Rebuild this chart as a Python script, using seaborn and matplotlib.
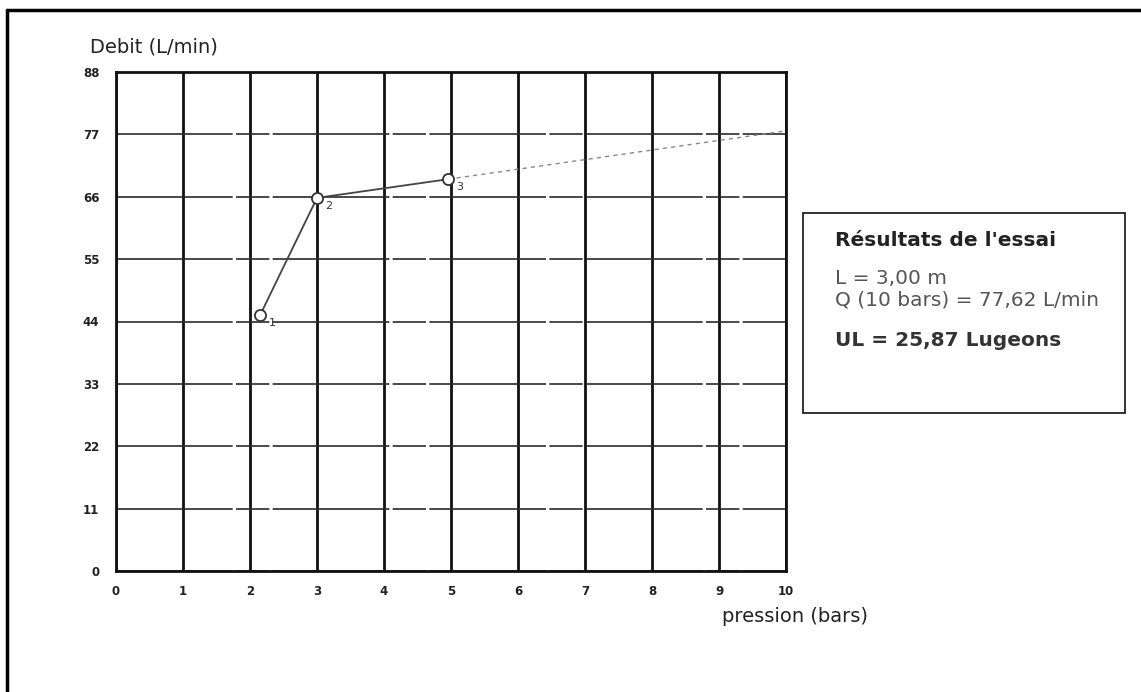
import matplotlib
matplotlib.use("Agg")
import matplotlib.pyplot as plt
import seaborn as sns
import pandas as pd
from matplotlib.patches import Rectangle
from matplotlib.lines import Line2D

# measured points (pression en bars, debit en L/min)
pression = [2.15, 3.0, 4.96]
debit = [45.1, 65.8, 69.1]
point_labels = ["1", "2", "3"]

# extrapolation towards 10 bars
extrap_pression = [4.96, 10.0]
extrap_debit = [69.1, 77.62]

x_ticks = [0, 1, 2, 3, 4, 5, 6, 7, 8, 9, 10]
y_ticks = [0, 11, 22, 33, 44, 55, 66, 77, 88]

results_title = "Résultats de l'essai"
results_lines = ["L = 3,00 m", "Q (10 bars) = 77,62 L/min"]
results_ul = "UL = 25,87 Lugeons"

sns.set_style("white")
plt.rcParams['font.family'] = ['DejaVu Sans']

W, H = 1141, 692
fig = plt.figure(figsize=(W / 100, H / 100), dpi=100)
ax = fig.add_axes([116 / W, 1 - 571 / H, (786 - 116) / W, (571 - 72) / H])

df = pd.DataFrame({'pression': pression, 'debit': debit})
df_ext = pd.DataFrame({'pression': extrap_pression, 'debit': extrap_debit})

# grid: heavy verticals, lighter horizontals
for x in x_ticks:
    ax.axvline(x, color='#111111', lw=2.0, zorder=1)
for y in y_ticks:
    ax.axhline(y, color='#2a2a2a', lw=1.2, ls=(0, (70, 2, 20, 2)), zorder=1)

sns.lineplot(data=df_ext, x='pression', y='debit', ax=ax, color='#888888',
             lw=1.0, linestyle=(0, (3, 3)), zorder=2)
sns.lineplot(data=df, x='pression', y='debit', ax=ax, color='#444444', lw=1.3,
             marker='o', markersize=8, markerfacecolor='white',
             markeredgecolor='#333333', markeredgewidth=1.3, zorder=3)

for px, py, lab in zip(pression, debit, point_labels):
    ax.annotate(lab, (px, py), xytext=(6, -8), textcoords='offset points',
                fontsize=8, color='#333333')

ax.set_xlim(0, 10)
ax.set_ylim(0, 88)
ax.set_xticks(x_ticks)
ax.set_yticks(y_ticks)
ax.set_xticklabels([str(v) for v in x_ticks], fontsize=8.5, fontweight='bold', color='#222222')
ax.set_yticklabels([str(v) for v in y_ticks], fontsize=8.5, fontweight='bold', color='#222222')
ax.tick_params(axis='x', length=0, pad=10)
ax.tick_params(axis='y', length=0, pad=12)
ax.set_xlabel('')
ax.set_ylabel('')
for s in ax.spines.values():
    s.set_color('#111111')
    s.set_linewidth(2.0)

fig.text(90 / W, 1 - 47 / H, "Debit (L/min)", fontsize=14, va='center', ha='left', color='#222222')
fig.text(722 / W, 1 - 617 / H, "pression (bars)", fontsize=14, va='center', ha='left', color='#222222')

# results box
fig.patches.append(Rectangle((803 / W, 1 - 413 / H), (1125 - 803) / W, (413 - 213) / H,
                             transform=fig.transFigure, fill=False, edgecolor='#222222', lw=1.3))
fig.text(835 / W, 1 - 241 / H, results_title, fontsize=14.5, fontweight='bold', va='center', color='#222222')
fig.text(835 / W, 1 - 278 / H, results_lines[0], fontsize=14.5, va='center', color='#555555')
fig.text(835 / W, 1 - 300 / H, results_lines[1], fontsize=14.5, va='center', color='#555555')
fig.text(835 / W, 1 - 340 / H, results_ul, fontsize=14.5, fontweight='bold', va='center', color='#333333')

# outer frame (left and top edges visible)
fig.add_artist(Line2D([7 / W, 7 / W], [0, 1 - 10 / H], transform=fig.transFigure, color='black', lw=2.5))
fig.add_artist(Line2D([7 / W, 1], [1 - 10 / H, 1 - 10 / H], transform=fig.transFigure, color='black', lw=2.5))

fig.savefig('out.png', dpi=100, facecolor='white')
